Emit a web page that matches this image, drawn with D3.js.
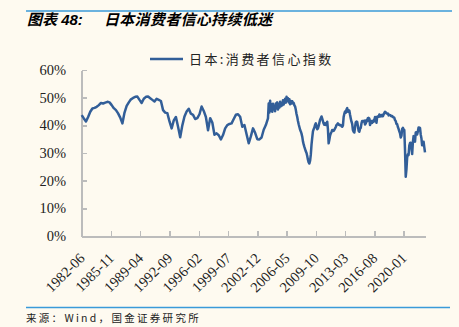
<!DOCTYPE html>
<html><head><meta charset="utf-8">
<script src="https://cdn.jsdelivr.net/npm/d3@7/dist/d3.min.js"></script>
<style>
html,body{margin:0;padding:0;background:#fefaf0;}
svg{display:block;}
</style></head>
<body>
<svg id="c" width="459" height="327"></svg>
<script>
// ---- data ----
// tick labels (every 41 monthly categories starting 1982-06)
const tickLabels = ["1982-06","1985-11","1989-04","1992-09","1996-02","1999-07","2002-12","2006-05","2009-10","2013-03","2016-08","2020-01"];
const yTicks = [0,10,20,30,40,50,60];
// quarterly survey values 1982-06 .. 2004-03 (%)
const quarterlyValues = [
 43.7,42.5,41.4,
 43.0,44.9,46.1,46.3,
 46.7,47.3,48.1,47.9,
 48.2,48.5,48.3,47.3,
 46.2,45.5,44.3,42.8,
 40.7,44.6,47.0,48.3,
 49.4,49.9,50.3,50.4,
 49.2,48.1,49.6,50.3,
 50.4,49.8,49.2,48.6,
 49.6,49.2,48.8,45.5,
 44.6,44.4,41.4,38.9,
 41.8,43.0,39.5,35.7,
 40.0,43.2,45.0,46.0,
 44.2,43.8,42.3,42.6,
 44.0,46.8,45.2,43.0,
 38.2,42.6,41.0,36.6,
 37.1,36.4,34.9,36.5,
 38.9,40.1,40.5,40.7,
 42.3,43.8,44.0,43.1,
 39.5,40.1,36.8,33.5,
 36.0,38.9,37.3,35.0,
 34.9,35.6,38.4,40.1,
 42.5
];
// monthly values 2004-04 .. 2022-07 (%)
const monthlyValues = [
 47.9,44.6,48.9,45.3,47.6,44.9,47.8,45.8,47.0,
 45.1,47.9,46.2,48.3,45.7,47.6,46.4,48.5,46.9,48.0,47.2,49.1,
 47.5,48.8,49.6,48.2,50.3,48.9,49.8,48.3,49.4,47.6,48.8,47.9,
 48.7,47.9,48.1,47.2,46.8,45.6,44.1,43.0,41.6,40.4,39.4,38.4,
 37.8,37.0,35.9,34.2,33.1,32.2,31.4,30.6,30.0,28.9,27.6,26.6,
 26.2,27.2,29.4,33.0,35.6,37.8,38.6,39.2,40.2,40.7,39.6,38.6,
 38.9,39.8,40.9,42.0,42.6,43.2,42.4,41.5,40.6,40.2,40.7,40.1,
 40.6,41.3,38.6,33.5,34.8,36.3,37.1,37.6,38.3,38.1,38.0,38.4,
 38.9,39.4,40.1,40.4,40.7,40.2,40.3,40.0,40.1,39.7,39.5,39.9,
 43.0,44.2,45.0,44.6,45.7,46.2,44.9,45.5,45.3,43.8,42.5,41.3,
 40.5,38.3,37.7,37.4,39.3,41.1,41.4,41.2,39.8,38.0,37.7,38.8,
 39.1,40.7,41.6,41.5,41.4,41.7,40.3,40.7,41.9,41.5,42.6,42.7,
 42.5,40.1,41.7,40.8,40.9,41.6,41.3,42.0,43.0,42.3,40.9,43.1,
 43.2,43.1,43.9,43.2,43.6,43.3,43.8,43.3,43.9,44.5,44.9,44.7,
 44.3,44.3,44.3,43.6,43.8,43.7,43.5,43.3,43.4,43.0,42.9,42.7,
 41.9,41.5,40.5,40.4,39.4,38.7,37.8,37.1,35.6,36.2,38.7,39.1,
 38.5,38.3,31.1,21.4,24.1,28.4,29.5,29.3,32.7,33.6,33.7,31.8,
 29.6,33.8,36.1,34.7,34.1,37.4,37.5,36.7,37.8,39.2,39.2,39.1,
 36.7,35.3,32.8,33.0,34.1,32.1,30.2
];
const seriesName = "日本:消费者信心指数";
const titleA = "图表 48:";
const titleB = "日本消费者信心持续低迷";
const source = "来源：Wind，国金证券研究所";

// month-index series
const points = [];
quarterlyValues.forEach((v,i)=>points.push({m:i*3, v}));
const mStart = (quarterlyValues.length-1)*3 + 1;
monthlyValues.forEach((v,i)=>points.push({m:mStart+i, v}));
const lastM = mStart + monthlyValues.length - 1;

const svg = d3.select("#c");
const x = d3.scaleLinear().domain([0,lastM]).range([81.7,425]);
const y = d3.scaleLinear().domain([0,60]).range([236,70]);

// header / footer rules
svg.append("line").attr("x1",26).attr("x2",452).attr("y1",11).attr("y2",11).attr("stroke","#3a9ad9").attr("stroke-width",1.5);
svg.append("line").attr("x1",26).attr("x2",450).attr("y1",307.5).attr("y2",307.5).attr("stroke","#3a9ad9").attr("stroke-width",1.5);

const title = svg.append("text").attr("x",27).attr("y",25)
  .style("font-family","'Liberation Sans','Noto Sans CJK SC',sans-serif")
  .style("font-size","15px").style("font-weight","bold").style("font-style","italic").attr("fill","#000");
title.append("tspan").text(titleA);
title.append("tspan").attr("x",104).style("font-family","'Noto Sans CJK SC',sans-serif").style("letter-spacing","0.3px").text(titleB);

svg.append("text").attr("x",26).attr("y",322)
  .style("font-family","'Noto Sans CJK SC',sans-serif").style("font-size","10.5px")
  .style("letter-spacing","2.3px").attr("fill","#222").text(source);

// axes
const gray = "#bcbcbc";
const ax = svg.append("g").attr("transform","translate(0,236)")
  .call(d3.axisBottom(x).tickValues(tickLabels.map((d,i)=>i*41)).tickFormat((d,i)=>tickLabels[i]).tickSizeInner(-5).tickSizeOuter(0));
ax.select(".domain").attr("stroke",gray).attr("stroke-width",2);
ax.selectAll(".tick line").attr("stroke",gray).attr("stroke-width",1.5);
ax.selectAll(".tick text").attr("x",0).attr("y",0).attr("dy",0)
  .attr("transform","translate(3.5,23) rotate(-45)").style("text-anchor","end")
  .style("font-family","'Liberation Serif','Times New Roman',serif").style("font-size","14.5px").attr("fill","#222");

const ay = svg.append("g").attr("transform","translate(81.7,0)")
  .call(d3.axisLeft(y).tickValues(yTicks).tickFormat(d=>d+"%").tickSizeInner(-5).tickSizeOuter(0).tickPadding(15.5));
ay.select(".domain").attr("stroke",gray).attr("stroke-width",2);
ay.selectAll(".tick line").attr("stroke",gray).attr("stroke-width",1.5);
ay.selectAll(".tick text").style("font-family","'Liberation Serif','Times New Roman',serif").style("font-size","14.5px").attr("fill","#222");
svg.selectAll(".domain, .tick line").attr("shape-rendering","crispEdges");

// line
const line = d3.line().x(d=>x(d.m)).y(d=>y(d.v));
svg.append("path").datum(points).attr("d",line).attr("fill","none")
  .attr("stroke","#325e98").attr("stroke-width",2.5).attr("stroke-linejoin","round");

// legend
svg.append("line").attr("x1",150).attr("x2",183).attr("y1",59).attr("y2",59).attr("stroke","#325e98").attr("stroke-width",2.6);
svg.append("text").attr("x",189).attr("y",64)
  .style("font-family","'Noto Sans CJK SC',sans-serif").style("font-size","13px").style("letter-spacing","2.4px")
  .attr("fill","#222").text(seriesName);
</script>
</body></html>
